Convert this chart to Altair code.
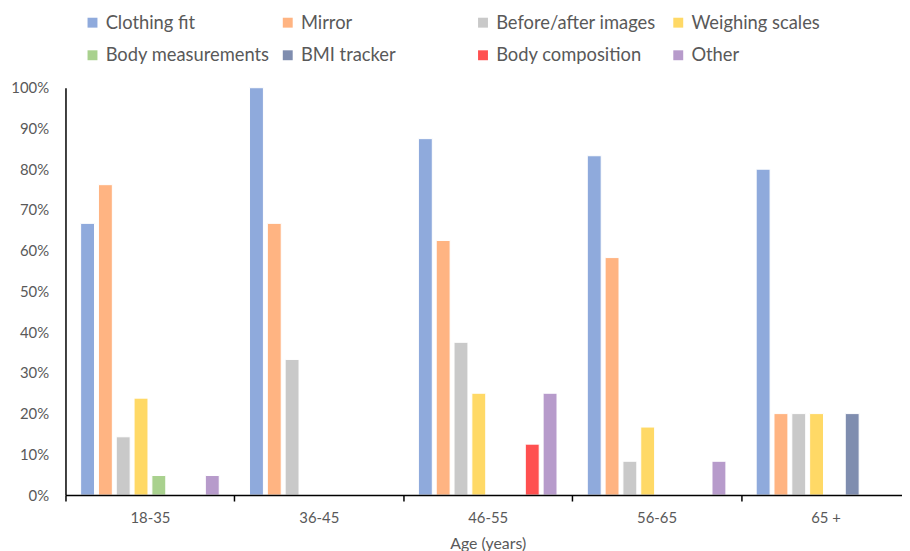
import altair as alt
import pandas as pd

ages = ["18-35", "36-45", "46-55", "56-65", "65 +"]
series = ["Clothing fit", "Mirror", "Before/after images", "Weighing scales",
          "Body measurements", "BMI tracker", "Body composition", "Other"]
colors = ["#8FAADC", "#FFB482", "#C9C9C9", "#FFD966",
          "#A9D18E", "#7F8DAF", "#FF5050", "#B79BCB"]

clothing_fit = [66.7, 100.0, 87.5, 83.3, 80.0]
mirror = [76.2, 66.7, 62.5, 58.3, 20.0]
before_after = [14.3, 33.3, 37.5, 8.3, 20.0]
weighing_scales = [23.8, 0.0, 25.0, 16.7, 20.0]
body_measurements = [4.8, 0.0, 0.0, 0.0, 0.0]
bmi_tracker = [0.0, 0.0, 0.0, 0.0, 20.0]
body_composition = [0.0, 0.0, 12.5, 0.0, 0.0]
other = [4.8, 0.0, 25.0, 8.3, 0.0]

y_ticks = [0, 10, 20, 30, 40, 50, 60, 70, 80, 90, 100]

values = [clothing_fit, mirror, before_after, weighing_scales,
          body_measurements, bmi_tracker, body_composition, other]

rows = []
for s, vals in zip(series, values):
    for a, v in zip(ages, vals):
        rows.append({"age": a, "series": s, "value": v})
df = pd.DataFrame(rows)

FONT = "Lato"
GRAY = "#595959"

chart = alt.Chart(df).mark_bar(stroke="white", strokeWidth=1).encode(
    x=alt.X("age:N", sort=ages,
            scale=alt.Scale(domain=ages, paddingInner=0, paddingOuter=0, range=[0, 852]),
            axis=alt.Axis(title="Age (years)", labelAngle=0, tickBand="extent",
                          tickSize=6, tickColor="#000", tickWidth=1.5,
                          domainColor="#000", domainWidth=1.5,
                          labelFont=FONT, labelFontSize=15, labelColor=GRAY,
                          labelPadding=10,
                          titleFont=FONT, titleFontSize=16, titleColor=GRAY,
                          titleFontWeight="normal", titleX=426, titleY=41,
                          titleAlign="center", titleBaseline="top",
                          zindex=1)),
    xOffset=alt.XOffset("series:N", sort=series,
                        scale=alt.Scale(domain=series, paddingInner=0.22, paddingOuter=0.85)),
    y=alt.Y("value:Q",
            scale=alt.Scale(domain=[0, 100], nice=False),
            axis=alt.Axis(title=None, values=y_ticks, labelExpr="datum.value + '%'",
                          ticks=False, grid=False, domainColor="#000", domainWidth=1.5,
                          labelFont=FONT, labelFontSize=15, labelColor=GRAY,
                          labelPadding=17, zindex=1)),
    color=alt.Color("series:N", sort=series,
                    scale=alt.Scale(domain=series, range=colors),
                    legend=alt.Legend(title=None, orient="none", legendX=18, legendY=-75,
                                      direction="horizontal",
                                      columns=4, gridAlign="all", columnPadding=9,
                                      rowPadding=14, padding=0,
                                      symbolType="square", symbolSize=100,
                                      symbolStrokeWidth=0, labelOffset=4,
                                      labelFont=FONT, labelFontSize=18.5, labelColor=GRAY,
                                      labelLimit=400)),
).properties(
    width=844, height=411,
    padding={"left": 58, "top": 78, "right": 0, "bottom": 56},
    autosize=alt.AutoSizeParams(type="none"),
    background="white",
).configure_view(stroke=None)

chart.save("out.html", embed_options={"renderer": "svg", "actions": False})
